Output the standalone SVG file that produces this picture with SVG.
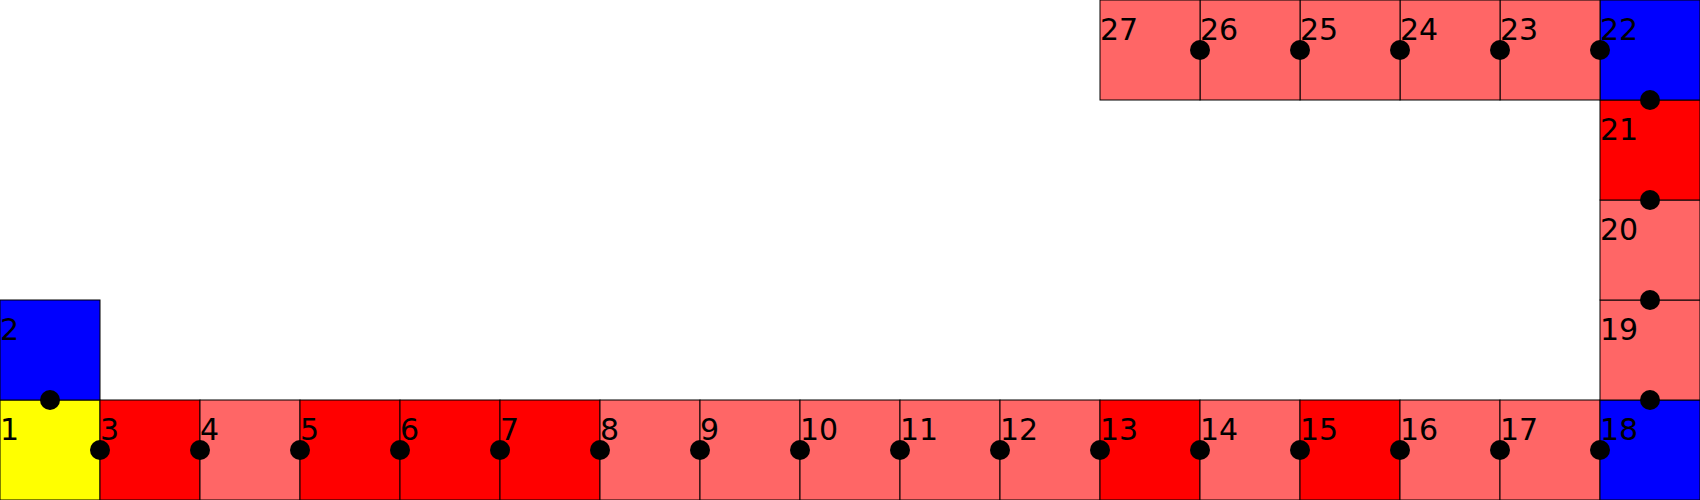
<svg xmlns="http://www.w3.org/2000/svg" width="1700" height="500" viewBox="0 0 1700 500">
<style>
.c{stroke:#000;stroke-width:1}
.y{fill:#ffff00}.b{fill:#0000ff}.r{fill:#ff0000}.l{fill:#ff6666}
text{font-family:"DejaVu Sans",sans-serif;font-size:30px;fill:#000}
circle{fill:#000}
</style>
<g id="n1"><rect class="c y" x="0" y="400" width="100" height="100"/><text x="0" y="440">1</text></g>
<g id="n2"><rect class="c b" x="0" y="300" width="100" height="100"/><text x="0" y="340">2</text></g>
<g id="n3"><rect class="c r" x="100" y="400" width="100" height="100"/><text x="100" y="440">3</text></g>
<g id="n4"><rect class="c l" x="200" y="400" width="100" height="100"/><text x="200" y="440">4</text></g>
<g id="n5"><rect class="c r" x="300" y="400" width="100" height="100"/><text x="300" y="440">5</text></g>
<g id="n6"><rect class="c r" x="400" y="400" width="100" height="100"/><text x="400" y="440">6</text></g>
<g id="n7"><rect class="c r" x="500" y="400" width="100" height="100"/><text x="500" y="440">7</text></g>
<g id="n8"><rect class="c l" x="600" y="400" width="100" height="100"/><text x="600" y="440">8</text></g>
<g id="n9"><rect class="c l" x="700" y="400" width="100" height="100"/><text x="700" y="440">9</text></g>
<g id="n10"><rect class="c l" x="800" y="400" width="100" height="100"/><text x="800" y="440">10</text></g>
<g id="n11"><rect class="c l" x="900" y="400" width="100" height="100"/><text x="900" y="440">11</text></g>
<g id="n12"><rect class="c l" x="1000" y="400" width="100" height="100"/><text x="1000" y="440">12</text></g>
<g id="n13"><rect class="c r" x="1100" y="400" width="100" height="100"/><text x="1100" y="440">13</text></g>
<g id="n14"><rect class="c l" x="1200" y="400" width="100" height="100"/><text x="1200" y="440">14</text></g>
<g id="n15"><rect class="c r" x="1300" y="400" width="100" height="100"/><text x="1300" y="440">15</text></g>
<g id="n16"><rect class="c l" x="1400" y="400" width="100" height="100"/><text x="1400" y="440">16</text></g>
<g id="n17"><rect class="c l" x="1500" y="400" width="100" height="100"/><text x="1500" y="440">17</text></g>
<g id="n18"><rect class="c b" x="1600" y="400" width="100" height="100"/><text x="1600" y="440">18</text></g>
<g id="n19"><rect class="c l" x="1600" y="300" width="100" height="100"/><text x="1600" y="340">19</text></g>
<g id="n20"><rect class="c l" x="1600" y="200" width="100" height="100"/><text x="1600" y="240">20</text></g>
<g id="n21"><rect class="c r" x="1600" y="100" width="100" height="100"/><text x="1600" y="140">21</text></g>
<g id="n22"><rect class="c b" x="1600" y="0" width="100" height="100"/><text x="1600" y="40">22</text></g>
<g id="n23"><rect class="c l" x="1500" y="0" width="100" height="100"/><text x="1500" y="40">23</text></g>
<g id="n24"><rect class="c l" x="1400" y="0" width="100" height="100"/><text x="1400" y="40">24</text></g>
<g id="n25"><rect class="c l" x="1300" y="0" width="100" height="100"/><text x="1300" y="40">25</text></g>
<g id="n26"><rect class="c l" x="1200" y="0" width="100" height="100"/><text x="1200" y="40">26</text></g>
<g id="n27"><rect class="c l" x="1100" y="0" width="100" height="100"/><text x="1100" y="40">27</text></g>
<g id="connectors">
<circle cx="50" cy="400" r="10"/>
<circle cx="100" cy="450" r="10"/>
<circle cx="200" cy="450" r="10"/>
<circle cx="300" cy="450" r="10"/>
<circle cx="400" cy="450" r="10"/>
<circle cx="500" cy="450" r="10"/>
<circle cx="600" cy="450" r="10"/>
<circle cx="700" cy="450" r="10"/>
<circle cx="800" cy="450" r="10"/>
<circle cx="900" cy="450" r="10"/>
<circle cx="1000" cy="450" r="10"/>
<circle cx="1100" cy="450" r="10"/>
<circle cx="1200" cy="450" r="10"/>
<circle cx="1300" cy="450" r="10"/>
<circle cx="1400" cy="450" r="10"/>
<circle cx="1500" cy="450" r="10"/>
<circle cx="1600" cy="450" r="10"/>
<circle cx="1650" cy="400" r="10"/>
<circle cx="1650" cy="300" r="10"/>
<circle cx="1650" cy="200" r="10"/>
<circle cx="1650" cy="100" r="10"/>
<circle cx="1600" cy="50" r="10"/>
<circle cx="1500" cy="50" r="10"/>
<circle cx="1400" cy="50" r="10"/>
<circle cx="1300" cy="50" r="10"/>
<circle cx="1200" cy="50" r="10"/>
</g>
</svg>
